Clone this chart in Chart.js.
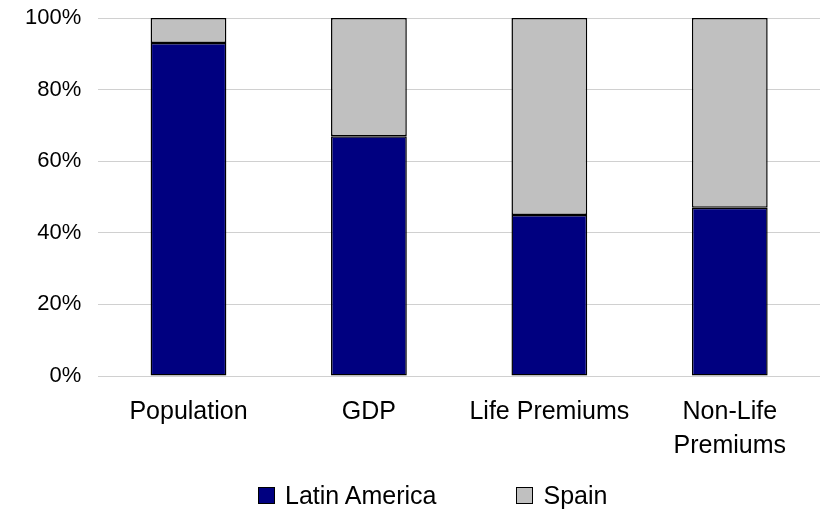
<!DOCTYPE html>
<html>
<head>
<meta charset="utf-8">
<script src="https://cdn.jsdelivr.net/npm/chart.js@4"></script>
<style>
  html, body { margin: 0; padding: 0; background: #fff; }
  #wrap { position: relative; width: 820px; height: 510px; overflow: hidden; }
  #leyenda {
    position: absolute; left: 258px; top: 481px;
    display: flex; gap: 80px; line-height: 30px;
    font: 25px "Liberation Sans", Arial, sans-serif; color: #000;
  }
  #leyenda span.item { display: flex; align-items: center; white-space: nowrap; }
  #leyenda span.caja {
    width: 15px; height: 15px; border: 1px solid #000; margin-right: 10px; display: inline-block;
  }
</style>
</head>
<body>
<div id="wrap">
  <canvas id="grafico" width="820" height="510"></canvas>
  <div id="leyenda"></div>
</div>
<script>
const categorias = ['Population', 'GDP', 'Life Premiums', ['Non-Life', 'Premiums']];
const latinAmerica = [93, 67, 45, 47];
const spain = [7, 33, 55, 53];
const ticksY = [0, 20, 40, 60, 80, 100];

const colores = {
  latam: '#000080',
  spain: '#C0C0C0'
};

const fuente = '"Liberation Sans", Arial, sans-serif';
const ctx = document.getElementById('grafico').getContext('2d');

const series = [
  { label: 'Latin America', data: latinAmerica, color: colores.latam },
  { label: 'Spain', data: spain, color: colores.spain }
];

const chart = new Chart(ctx, {
  type: 'bar',
  data: {
    labels: categorias,
    datasets: series.map(s => ({
      label: s.label,
      data: s.data,
      backgroundColor: s.color,
      borderColor: '#000',
      borderWidth: 1.5,
      borderSkipped: false,
      categoryPercentage: 1,
      barPercentage: 0.42
    }))
  },
  options: {
    responsive: false,
    animation: false,
    layout: { padding: { left: 21, right: -3, top: 18, bottom: 28 } },
    plugins: {
      legend: { display: false },
      tooltip: { enabled: false }
    },
    scales: {
      x: {
        stacked: true,
        grid: { display: false, drawTicks: false },
        border: { color: '#d0d0d0', width: 1 },
        ticks: {
          color: '#000',
          padding: 19,
          maxRotation: 0,
          font: { family: fuente, size: 25, lineHeight: 1.36 }
        }
      },
      y: {
        stacked: true,
        min: 0,
        max: 100,
        afterBuildTicks: axis => { axis.ticks = ticksY.map(v => ({ value: v })); },
        // marcas invisibles para separar las etiquetas del eje
        grid: { color: '#d0d0d0', drawTicks: true, tickLength: 13, tickColor: 'rgba(0,0,0,0)' },
        border: { display: false },
        ticks: {
          color: '#000',
          padding: 4,
          font: { family: fuente, size: 22 },
          callback: v => v + '%'
        }
      }
    }
  }
});

// Leyenda en HTML
const leyenda = document.getElementById('leyenda');
series.forEach(s => {
  const item = document.createElement('span');
  item.className = 'item';
  item.innerHTML = `<span class="caja" style="background:${s.color}"></span>${s.label}`;
  leyenda.appendChild(item);
});
</script>
</body>
</html>
